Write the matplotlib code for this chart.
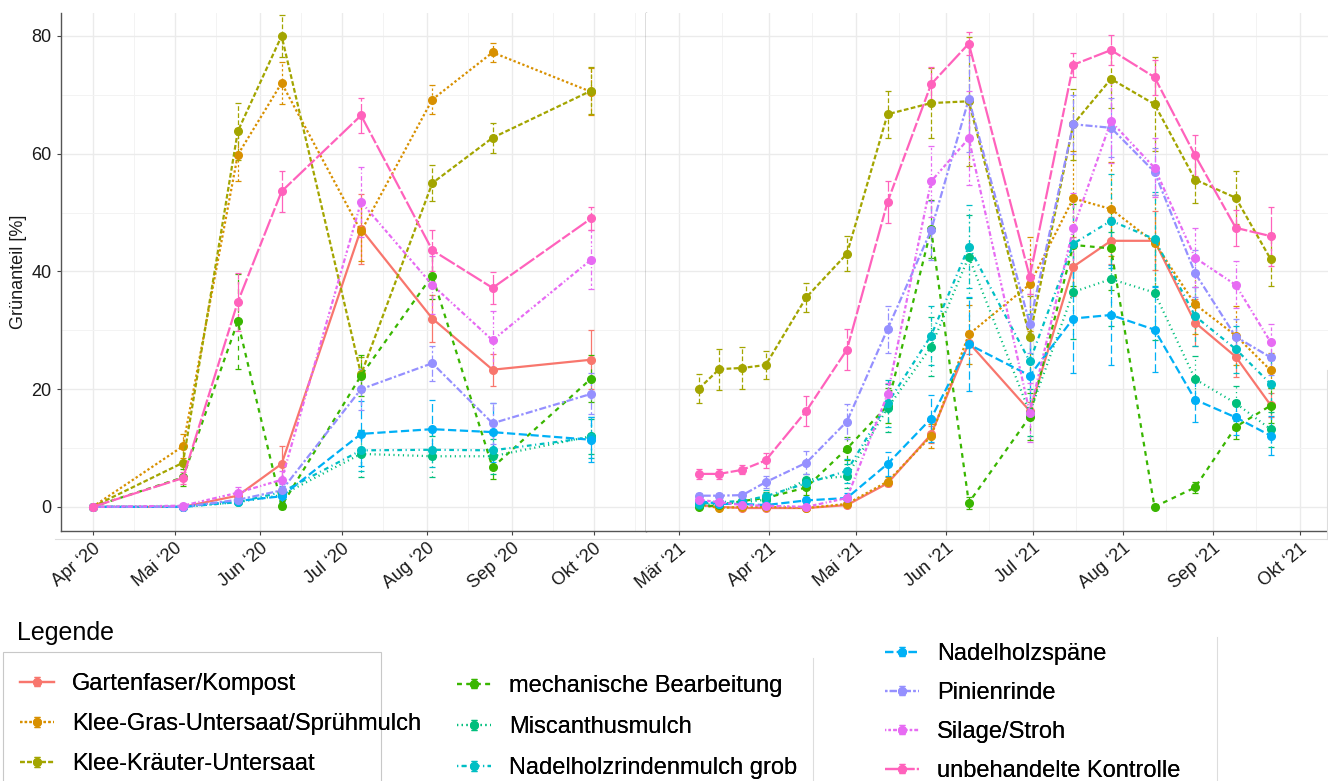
# Grünanteil der Mulchvarianten 2020 und 2021
# Zwei Panels nebeneinander, Legende in drei Spalten darunter

import numpy as np
import matplotlib.pyplot as plt
from matplotlib.container import ErrorbarContainer
from matplotlib.legend_handler import HandlerErrorbar
from matplotlib.lines import Line2D
from matplotlib.patches import Rectangle

plt.rcParams['font.family'] = ['Liberation Sans', 'DejaVu Sans']
plt.rcParams['lines.scale_dashes'] = False


#***********************************************************************************
# Daten
#***********************************************************************************

termine_2020 = np.array(['2020-04-01', '2020-05-04', '2020-05-24', '2020-06-09',
                         '2020-07-08', '2020-08-03', '2020-08-25', '2020-09-30'],
                        dtype='datetime64[D]')
termine_2021 = np.array(['2021-03-08', '2021-03-15', '2021-03-23', '2021-03-31',
                         '2021-04-14', '2021-04-28', '2021-05-12', '2021-05-27',
                         '2021-06-09', '2021-06-30', '2021-07-15', '2021-07-28',
                         '2021-08-12', '2021-08-26', '2021-09-09', '2021-09-21'],
                        dtype='datetime64[D]')

varianten = ["Gartenfaser/Kompost", "Klee-Gras-Untersaat/Sprühmulch", "Klee-Kräuter-Untersaat",
             "mechanische Bearbeitung", "Miscanthusmulch", "Nadelholzrindenmulch grob",
             "Nadelholzspäne", "Pinienrinde", "Silage/Stroh", "unbehandelte Kontrolle"]

# 2020: Mittelwerte
gartenfaser_20 = [0, 0, 1.9, 7.3, 47.2, 32.0, 23.3, 25.0]
kleegras_20    = [0, 10.3, 59.8, 72.0, 46.8, 69.2, 77.2, 70.5]
kleekraut_20   = [0, 7.5, 63.8, 80.0, 22.5, 55.0, 62.7, 70.7]
mechanisch_20  = [0, 5.0, 31.5, 0.2, 22.3, 39.3, 6.7, 21.8]
miscanthus_20  = [0, 0, 0.8, 2.0, 9.0, 8.6, 8.6, 12.0]
rindengrob_20  = [0, 0, 0.8, 2.5, 9.6, 9.7, 9.6, 11.8]
spaene_20      = [0, 0, 1.0, 1.8, 12.4, 13.2, 12.7, 11.4]
pinie_20       = [0, 0, 1.2, 2.8, 20.0, 24.4, 14.2, 19.2]
silage_20      = [0, 0.2, 2.4, 4.6, 51.8, 37.7, 28.3, 42.0]
kontrolle_20   = [0, 4.9, 34.8, 53.6, 66.5, 43.6, 37.2, 49.0]

# 2020: Fehlerbalken
gartenfaser_20_err = [0, 0.3, 0.5, 3.0, 6.0, 4.0, 2.7, 5.0]
kleegras_20_err    = [0, 2.0, 4.5, 3.5, 5.0, 2.5, 1.6, 4.0]
kleekraut_20_err   = [0, 2.5, 4.8, 3.5, 3.0, 3.0, 2.5, 4.0]
mechanisch_20_err  = [0, 1.5, 8.0, 0.5, 3.5, 4.0, 2.0, 4.0]
miscanthus_20_err  = [0, 0, 0.3, 1.0, 4.0, 3.5, 3.0, 3.0]
rindengrob_20_err  = [0, 0, 0.3, 1.0, 3.5, 3.0, 3.0, 3.5]
spaene_20_err      = [0, 0, 0.3, 1.0, 5.5, 5.0, 5.0, 3.8]
pinie_20_err       = [0, 0, 0.5, 1.0, 3.5, 3.0, 3.5, 3.5]
silage_20_err      = [0, 0.2, 1.0, 1.5, 6.0, 5.0, 5.0, 5.0]
kontrolle_20_err   = [0, 1.0, 5.0, 3.5, 3.0, 3.5, 2.7, 2.0]

# 2021: Mittelwerte
gartenfaser_21 = [0.3, 0.0, -0.2, -0.2, -0.2, 0.3, 4.0, 12.3, 27.9, 16.3, 40.8, 45.2, 45.2, 31.3, 25.5, 17.3]
kleegras_21    = [0.4, -0.2, 0.0, 0.0, -0.2, 0.5, 4.3, 12.0, 29.3, 37.8, 52.4, 50.6, 44.9, 34.4, 29.1, 23.2]
kleekraut_21   = [20.1, 23.4, 23.6, 24.1, 35.6, 43.0, 66.7, 68.6, 68.9, 28.9, 65.0, 72.7, 68.4, 55.6, 52.5, 42.1]
mechanisch_21  = [0.0, 0.3, 1.0, 1.5, 3.3, 9.9, 17.2, 47.2, 0.7, 15.3, 44.5, 43.9, 0.0, 3.3, 13.6, 17.2]
miscanthus_21  = [0.3, 0.5, 0.8, 1.2, 4.6, 5.2, 16.8, 27.2, 42.5, 16.0, 36.5, 38.7, 36.4, 21.7, 17.6, 13.2]
rindengrob_21  = [0.5, 0.8, 1.0, 1.8, 4.0, 6.1, 17.6, 29.1, 44.2, 24.7, 44.7, 48.6, 45.5, 32.4, 26.8, 20.9]
spaene_21      = [1.0, 0.5, 0.5, 0.3, 1.1, 1.5, 7.3, 15.0, 27.6, 22.3, 32.0, 32.6, 30.1, 18.2, 15.2, 12.1]
pinie_21       = [1.9, 1.9, 2.0, 4.2, 7.5, 14.5, 30.2, 47.0, 69.3, 31.1, 65.0, 64.4, 56.9, 39.7, 28.9, 25.4]
silage_21      = [1.2, 0.8, 0.3, 0.2, 0.0, 1.5, 19.1, 55.3, 62.6, 16.0, 47.3, 65.5, 57.6, 42.3, 37.7, 28.0]
kontrolle_21   = [5.6, 5.6, 6.3, 7.9, 16.3, 26.7, 51.8, 71.8, 78.7, 39.1, 75.1, 77.6, 73.0, 59.7, 47.4, 46.0]

# 2021: Fehlerbalken
gartenfaser_21_err = [0.3, 0.2, 0.2, 0.2, 0.2, 0.3, 0.5, 1.5, 2.0, 1.5, 5.0, 4.0, 5.0, 4.0, 3.5, 2.0]
kleegras_21_err    = [0.3, 0.3, 0.3, 0.3, 0.3, 0.5, 0.8, 2.0, 5.0, 8.0, 8.0, 8.0, 8.0, 5.0, 5.0, 3.0]
kleekraut_21_err   = [2.5, 3.5, 3.5, 2.3, 2.5, 3.0, 4.0, 6.0, 11.0, 7.0, 6.0, 5.0, 8.0, 4.0, 4.5, 4.5]
mechanisch_21_err  = [0.3, 0.5, 0.8, 1.0, 1.2, 2.0, 3.0, 5.0, 1.0, 4.0, 7.0, 7.0, 0.3, 1.0, 2.0, 3.0]
miscanthus_21_err  = [0.3, 0.5, 0.8, 1.0, 1.0, 2.0, 4.0, 5.0, 7.0, 4.0, 8.0, 8.0, 8.0, 4.0, 3.0, 3.0]
rindengrob_21_err  = [0.3, 0.5, 0.8, 1.0, 1.0, 2.0, 4.0, 5.0, 7.0, 8.0, 8.0, 8.0, 8.0, 5.0, 4.0, 4.0]
spaene_21_err      = [0.3, 0.3, 0.3, 0.3, 0.5, 0.8, 2.0, 4.0, 8.0, 6.0, 9.3, 8.5, 7.2, 3.8, 3.0, 3.3]
pinie_21_err       = [0.5, 0.5, 0.5, 1.0, 2.0, 3.0, 4.0, 5.0, 9.0, 5.0, 5.0, 5.0, 4.0, 4.0, 3.0, 3.0]
silage_21_err      = [0.5, 0.5, 0.3, 0.3, 0.3, 0.5, 2.0, 6.0, 8.0, 5.0, 6.0, 7.0, 5.0, 5.0, 4.0, 3.0]
kontrolle_21_err   = [0.8, 0.8, 0.8, 1.3, 2.5, 3.5, 3.5, 3.0, 2.0, 3.0, 2.0, 2.5, 3.0, 3.5, 3.0, 5.0]

# Achsenbeschriftung
monate_2020 = np.array(['2020-04-01', '2020-05-01', '2020-06-01', '2020-07-01',
                        '2020-08-01', '2020-09-01', '2020-10-01'], dtype='datetime64[D]')
monate_2020_labels = ["Apr ‘20", "Mai ‘20", "Jun ‘20", "Jul ‘20", "Aug ‘20", "Sep ‘20", "Okt ‘20"]
monate_2021 = np.array(['2021-03-01', '2021-04-01', '2021-05-01', '2021-06-01',
                        '2021-07-01', '2021-08-01', '2021-09-01', '2021-10-01'], dtype='datetime64[D]')
monate_2021_labels = ["Mär ‘21", "Apr ‘21", "Mai ‘21", "Jun ‘21", "Jul ‘21", "Aug ‘21", "Sep ‘21", "Okt ‘21"]
y_ticks = [0, 20, 40, 60, 80]


#***********************************************************************************
# Stil: ggplot-Farben und Linientypen
#***********************************************************************************

farben = ['#F8766D', '#D89000', '#A3A500', '#39B600', '#00BF7D',
          '#00BFC4', '#00B0F6', '#9590FF', '#E76BF3', '#FF62BC']
u = 0.85  # Einheit der Strichmuster in pt
muster = [None, (2, 2), (4, 2), (4, 4), (1, 3), (1, 3, 4, 3), (7, 3),
          (2, 2, 6, 2), (1, 2, 2, 2, 3, 2, 4, 2), (15, 2, 8, 2)]

werte_2020 = [gartenfaser_20, kleegras_20, kleekraut_20, mechanisch_20, miscanthus_20,
              rindengrob_20, spaene_20, pinie_20, silage_20, kontrolle_20]
fehler_2020 = [gartenfaser_20_err, kleegras_20_err, kleekraut_20_err, mechanisch_20_err,
               miscanthus_20_err, rindengrob_20_err, spaene_20_err, pinie_20_err,
               silage_20_err, kontrolle_20_err]
werte_2021 = [gartenfaser_21, kleegras_21, kleekraut_21, mechanisch_21, miscanthus_21,
              rindengrob_21, spaene_21, pinie_21, silage_21, kontrolle_21]
fehler_2021 = [gartenfaser_21_err, kleegras_21_err, kleekraut_21_err, mechanisch_21_err,
               miscanthus_21_err, rindengrob_21_err, spaene_21_err, pinie_21_err,
               silage_21_err, kontrolle_21_err]


def zeichne(ax, termine, werte, fehler, farbe, striche):
   eb = ax.errorbar(termine, werte, yerr=fehler, color=farbe, lw=1.6, marker='o', ms=5.5,
                    elinewidth=0.9, capsize=2, capthick=0.9)
   if striche is not None:
      d = tuple(s * u for s in striche)
      eb.lines[0].set_dashes(d)
      eb.lines[2][0].set_linestyle((0, d))
   return eb


#***********************************************************************************
# Abbildung
#***********************************************************************************

W, H = 1328, 781
fig = plt.figure(figsize=(W / 100, H / 100), dpi=100)

def px(x0, y0, x1, y1):
   return [x0 / W, 1 - y1 / H, (x1 - x0) / W, (y1 - y0) / H]

ax1 = fig.add_axes(px(60.6, 13, 646, 531))
ax2 = fig.add_axes(px(646, 13, 1328, 531))

handles = []
for i in range(len(varianten)):
   h = zeichne(ax1, termine_2020, werte_2020[i], fehler_2020[i], farben[i], muster[i])
   zeichne(ax2, termine_2021, werte_2021[i], fehler_2021[i], farben[i], muster[i])
   handles.append(h)

ax1.set_xlim(np.datetime64('2020-03-20T08'), np.datetime64('2020-10-20T00'))
ax2.set_xlim(np.datetime64('2021-02-17T18'), np.datetime64('2021-10-10T19'))

ax1.set_xticks(monate_2020, monate_2020_labels)
ax1.set_xticks(list(monate_2020[:-1] + 15) + [np.datetime64('2020-10-16')], minor=True)
ax2.set_xticks(monate_2021, monate_2021_labels)
ax2.set_xticks(monate_2021[:-1] + 15, minor=True)

for ax in (ax1, ax2):
   ax.set_ylim(-4.1, 83.9)
   ax.set_yticks(y_ticks)
   ax.set_yticks([10, 30, 50, 70], minor=True)
   ax.grid(which='major', color='#EBEBEB', lw=1.0)
   ax.grid(which='minor', color='#F3F3F3', lw=0.7)
   ax.set_axisbelow(True)
   ax.tick_params(which='minor', length=0)
   ax.tick_params(which='major', length=3, width=0.8, color='#444444',
                  labelsize=13, labelcolor='#1a1a1a')
   for lab in ax.get_xticklabels():
      lab.set_rotation(40)
      lab.set_ha('right')
      lab.set_rotation_mode('anchor')
   for s in ax.spines.values():
      s.set_color('#555555')
      s.set_linewidth(1.0)
   ax.spines['top'].set_visible(False)

ax1.spines['right'].set_visible(True)
ax2.spines['left'].set_visible(False)
ax2.spines['right'].set_visible(False)
ax2.tick_params(axis='y', which='both', left=False, labelleft=False)

fig.text(19 / W, 1 - 272 / H, "Grünanteil [%]", rotation=90, ha='center', va='center',
         fontsize=13, color='#1a1a1a')

# helle Rahmenlinien des zusammengesetzten Bildes
fig.add_artist(Line2D([54.7 / W, 1], [1 - 539 / H] * 2, color='#DDDDDD', lw=0.8))
fig.add_artist(Line2D([1327 / W] * 2, [1 - 370 / H, 1 - 539 / H], color='#DDDDDD', lw=0.8))


#***********************************************************************************
# Legende
#***********************************************************************************

fig.text(17 / W, 1 - 640 / H, "Legende", fontsize=18, va='baseline')

fig.add_artist(Rectangle((3.3 / W, -0.01), (381 - 3.3) / W, 1 - 652.3 / H + 0.01,
                         fill=False, edgecolor='#C8C8C8', lw=0.8))
fig.add_artist(Line2D([813 / W] * 2, [0, 1 - 658 / H], color='#DDDDDD', lw=0.8))
fig.add_artist(Line2D([1217 / W] * 2, [0, 1 - 637 / H], color='#DDDDDD', lw=0.8))

hmap = {ErrorbarContainer: HandlerErrorbar(xerr_size=0.2)}
# (erste, letzte, x links, y oben, Zeilenabstand)
spalten = [(0, 3, 20, 673, 0.77), (3, 6, 457, 675, 0.81), (6, 10, 885, 643, 0.72)]
for a, b, x, y, abstand in spalten:
   leg = fig.legend(handles[a:b], varianten[a:b], loc='upper left',
                    bbox_to_anchor=(x / W, 1 - y / H), frameon=False, fontsize=17,
                    borderpad=0, borderaxespad=0, handlelength=1.45, handletextpad=0.75,
                    labelspacing=abstand, numpoints=1, handler_map=hmap)
   fig.add_artist(leg)

fig.savefig("out.png", dpi=100)
